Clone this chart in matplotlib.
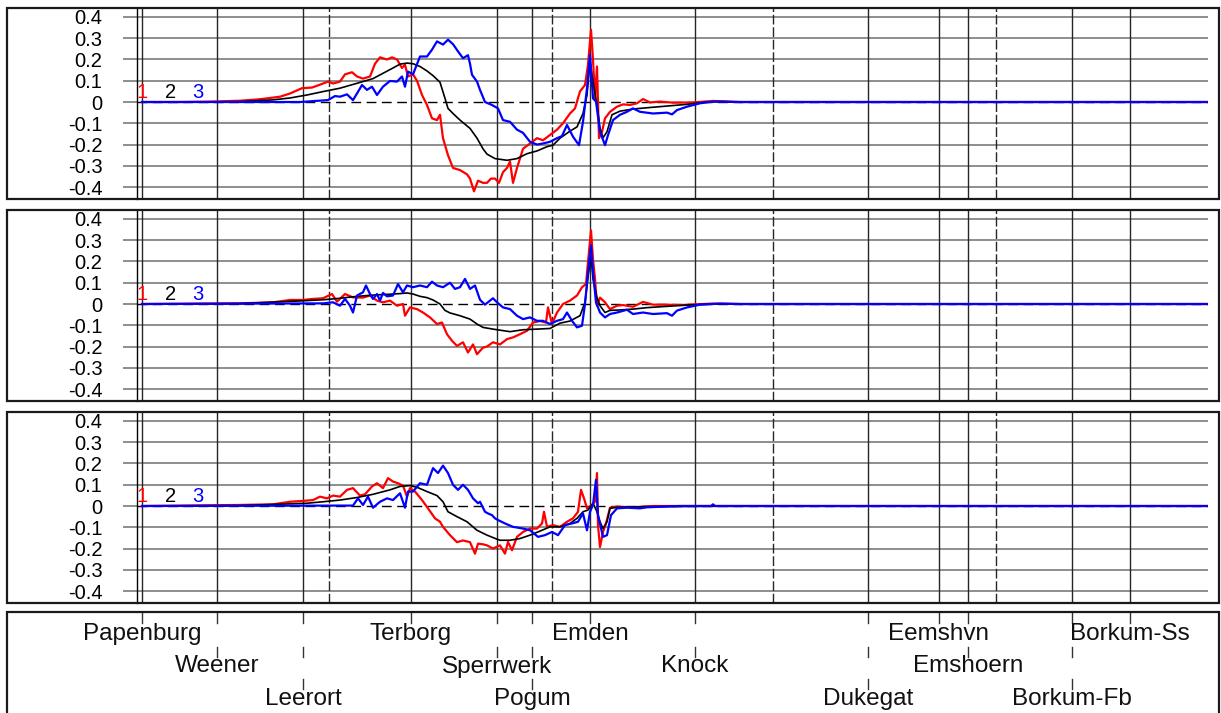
import matplotlib
matplotlib.use("Agg")
import matplotlib.pyplot as plt
from matplotlib.patches import Rectangle

plt.rcParams['font.family'] = ['Liberation Sans', 'DejaVu Sans']

# ---- stations along the estuary (distance in km from Papenburg) ----
stations = ['Papenburg', 'Weener', 'Leerort', 'Terborg', 'Sperrwerk', 'Pogum',
            'Emden', 'Knock', 'Dukegat', 'Eemshvn', 'Emshoern', 'Borkum-Fb', 'Borkum-Ss']
station_km = [0.0, 7.5, 16.1, 26.9, 35.5, 39.0, 44.8, 55.3, 72.6, 79.7, 82.6, 93.0, 98.8]
station_row = [1, 2, 3, 1, 2, 3, 1, 2, 3, 1, 2, 3, 1]
dashed_km = [18.7, 41.0, 63.1, 85.4]

yticks = [0.4, 0.3, 0.2, 0.1, 0.0, -0.1, -0.2, -0.3, -0.4]
ytick_labels = ['0.4', '0.3', '0.2', '0.1', '0', '-0.1', '-0.2', '-0.3', '-0.4']
series_labels = ['1', '2', '3']
series_colors = ['#ff0000', '#000000', '#0000ff']

# ---- panel 1 ----
p1_red_km = [0.0, 3.8, 6.8, 9.8, 11.8, 13.8, 14.8, 16.0, 17.0, 18.0,
             18.6, 19.1, 19.8, 20.3, 21.0, 21.5, 22.1, 22.8, 23.3, 23.8,
             24.5, 25.0, 25.5, 26.0, 26.3, 26.6, 27.1, 27.5, 28.0, 28.5,
             29.0, 29.5, 29.8, 30.1, 30.6, 31.1, 31.8, 32.5, 32.8, 33.2,
             33.6, 34.1, 34.5, 34.9, 35.3, 35.7, 36.1, 36.5, 36.8, 37.1,
             37.5, 38.1, 38.8, 39.5, 40.1, 40.8, 41.5, 42.1, 42.8, 43.3,
             43.8, 44.3, 44.6, 44.9, 45.1, 45.3, 45.5, 45.7, 46.0, 46.3,
             46.8, 47.5, 48.1, 48.8, 49.5, 50.1, 50.8, 51.8, 53.1, 55.1,
             57.1, 59.8, 65.8, 106.6]
p1_red = [0.0, 0.0, 0.002, 0.006, 0.013, 0.025, 0.04, 0.065, 0.068, 0.085,
          0.096, 0.087, 0.096, 0.13, 0.14, 0.12, 0.11, 0.12, 0.18, 0.21,
          0.2, 0.21, 0.2, 0.16, 0.175, 0.12, 0.13, 0.10, 0.033, -0.014,
          -0.077, -0.085, -0.06, -0.17, -0.25, -0.31, -0.32, -0.34, -0.36, -0.42,
          -0.37, -0.38, -0.38, -0.36, -0.36, -0.38, -0.33, -0.31, -0.28, -0.38,
          -0.31, -0.22, -0.195, -0.17, -0.18, -0.155, -0.13, -0.10, -0.054, -0.03,
          0.05, 0.08, 0.175, 0.34, 0.2, 0.017, 0.167, -0.17, -0.14, -0.077,
          -0.046, -0.022, -0.011, -0.014, -0.006, 0.014, -0.002, 0.002, -0.003, -0.002,
          0.005, 0.0, 0.0, 0.0]
p1_black_km = [0.0, 5.8, 9.8, 13.1, 14.8, 16.5, 18.1, 19.8, 21.5, 23.1,
               24.1, 25.1, 25.8, 26.5, 27.1, 27.8, 28.5, 29.1, 29.8, 30.3,
               30.6, 31.1, 31.8, 32.8, 33.5, 34.1, 34.5, 35.3, 36.5, 37.5,
               38.5, 39.5, 40.5, 41.1, 41.8, 42.8, 43.5, 44.1, 44.5, 44.8,
               45.1, 45.5, 45.8, 46.1, 46.5, 47.0, 47.8, 49.1, 50.5, 52.5,
               54.5, 56.5, 57.8, 59.8, 106.6]
p1_black = [0.0, 0.0, 0.002, 0.01, 0.019, 0.033, 0.049, 0.065, 0.088, 0.11,
            0.135, 0.16, 0.178, 0.183, 0.18, 0.167, 0.146, 0.124, 0.093, 0.017,
            -0.03, -0.054, -0.085, -0.124, -0.17, -0.22, -0.245, -0.266, -0.274, -0.266,
            -0.243, -0.23, -0.21, -0.203, -0.17, -0.137, -0.117, -0.054, 0.033, 0.19,
            0.096, -0.014, -0.124, -0.168, -0.14, -0.06, -0.043, -0.033, -0.027, -0.019,
            -0.011, 0.0, 0.002, 0.0, 0.0]
p1_blue_km = [0.0, 15.8, 18.6, 19.3, 19.8, 20.5, 21.1, 21.5, 22.0, 22.5,
              23.0, 23.5, 24.1, 24.8, 25.5, 26.0, 26.3, 26.6, 27.1, 27.8,
              28.5, 29.0, 29.5, 30.1, 30.6, 31.1, 31.6, 32.1, 32.6, 32.8,
              33.0, 33.5, 33.8, 34.3, 35.0, 35.6, 36.1, 36.8, 37.5, 38.1,
              38.8, 39.5, 40.1, 40.8, 41.5, 42.0, 42.5, 43.1, 43.7, 44.1,
              44.5, 44.8, 45.1, 45.4, 45.8, 46.3, 46.6, 47.1, 47.8, 48.5,
              49.1, 49.8, 51.1, 52.5, 53.0, 53.5, 54.5, 55.8, 57.1, 59.8,
              106.6]
p1_blue = [0.0, 0.0, 0.009, 0.028, 0.025, 0.036, 0.009, 0.04, 0.08, 0.057,
           0.072, 0.033, 0.072, 0.099, 0.096, 0.12, 0.072, 0.143, 0.13, 0.214,
           0.214, 0.246, 0.285, 0.27, 0.293, 0.272, 0.238, 0.206, 0.22, 0.18,
           0.128, 0.096, 0.057, 0.0, -0.014, -0.03, -0.085, -0.093, -0.13, -0.145,
           -0.187, -0.2, -0.195, -0.187, -0.17, -0.16, -0.108, -0.163, -0.203, -0.093,
           0.065, 0.222, 0.017, 0.002, -0.14, -0.203, -0.156, -0.085, -0.06, -0.046,
           -0.03, -0.046, -0.054, -0.05, -0.058, -0.038, -0.022, -0.006, 0.002, 0.0,
           0.0]

# ---- panel 2 ----
p2_red_km = [0.0, 9.8, 13.1, 14.8, 16.1, 17.1, 18.1, 19.0, 19.5, 20.3,
             21.1, 22.1, 22.8, 23.5, 24.1, 24.8, 25.5, 26.1, 26.3, 26.8,
             27.5, 28.1, 28.8, 29.5, 30.0, 30.5, 31.0, 31.5, 32.1, 32.6,
             33.1, 33.5, 34.1, 34.5, 35.1, 35.8, 36.5, 37.1, 37.8, 38.5,
             39.1, 39.8, 40.4, 40.6, 41.0, 41.5, 42.1, 42.8, 43.5, 44.0,
             44.4, 44.6, 44.9, 45.1, 45.3, 45.5, 45.8, 46.3, 46.8, 47.5,
             48.1, 49.1, 50.1, 51.1, 52.5, 53.8, 55.1, 57.1, 59.8, 106.6]
p2_red = [0.0, 0.003, 0.008, 0.019, 0.019, 0.024, 0.027, 0.047, 0.011, 0.047,
          0.031, 0.03, 0.04, 0.016, 0.008, 0.016, -0.008, 0.0, -0.055, -0.016,
          -0.024, -0.04, -0.063, -0.094, -0.087, -0.142, -0.173, -0.197, -0.18, -0.228,
          -0.19, -0.236, -0.205, -0.2, -0.18, -0.19, -0.165, -0.157, -0.142, -0.126,
          -0.087, -0.08, -0.087, -0.016, -0.094, -0.04, 0.0, 0.016, 0.04, 0.079,
          0.094, 0.197, 0.346, 0.21, 0.118, -0.008, 0.03, 0.008, -0.024, -0.008,
          -0.005, -0.013, 0.01, -0.003, -0.003, -0.005, -0.002, 0.002, 0.0, 0.0]
p2_black_km = [0.0, 9.8, 16.5, 18.1, 19.8, 21.5, 23.1, 24.8, 25.8, 26.5,
               27.1, 27.8, 28.5, 29.1, 29.8, 30.3, 30.8, 31.8, 32.8, 33.5,
               34.1, 35.1, 36.8, 38.1, 39.5, 40.8, 41.8, 42.8, 43.8, 44.3,
               44.6, 44.9, 45.1, 45.5, 45.8, 46.3, 46.8, 47.8, 49.1, 50.5,
               52.5, 54.5, 57.1, 106.6]
p2_black = [0.0, 0.002, 0.016, 0.02, 0.027, 0.036, 0.042, 0.046, 0.049, 0.052,
            0.047, 0.036, 0.03, 0.019, 0.0, -0.03, -0.042, -0.055, -0.071, -0.094,
            -0.11, -0.118, -0.13, -0.121, -0.118, -0.115, -0.09, -0.08, -0.055, 0.008,
            0.126, 0.228, 0.118, 0.03, -0.008, -0.04, -0.03, -0.028, -0.024, -0.017,
            -0.011, -0.005, 0.0, 0.0]
p2_blue_km = [0.0, 18.1, 19.1, 19.8, 20.3, 20.8, 21.1, 21.5, 22.1, 22.4,
              22.8, 23.1, 23.5, 23.8, 24.1, 24.5, 25.1, 25.6, 26.1, 26.5,
              27.1, 27.8, 28.5, 29.0, 29.5, 30.1, 30.8, 31.3, 31.8, 32.3,
              32.8, 33.3, 33.8, 34.3, 34.8, 35.1, 35.5, 36.1, 36.8, 37.5,
              38.1, 38.8, 39.5, 40.1, 40.8, 41.5, 42.1, 42.5, 43.0, 43.5,
              44.0, 44.3, 44.6, 44.9, 45.1, 45.4, 45.8, 46.3, 46.8, 47.5,
              48.5, 49.1, 50.1, 51.1, 52.5, 53.0, 53.5, 54.5, 55.8, 57.8,
              59.8, 106.6]
p2_blue = [0.0, 0.003, 0.008, -0.008, 0.024, -0.008, -0.04, 0.04, 0.055, 0.087,
           0.047, 0.024, 0.047, 0.016, 0.052, 0.036, 0.04, 0.094, 0.055, 0.087,
           0.079, 0.087, 0.079, 0.105, 0.087, 0.079, 0.1, 0.071, 0.079, 0.118,
           0.071, 0.087, 0.02, -0.003, 0.016, 0.027, 0.008, -0.016, -0.024, -0.055,
           -0.071, -0.063, -0.079, -0.079, -0.094, -0.079, -0.071, -0.04, -0.079, -0.11,
           -0.102, 0.0, 0.15, 0.276, 0.15, 0.008, -0.04, -0.063, -0.047, -0.04,
           -0.027, -0.047, -0.04, -0.047, -0.043, -0.055, -0.031, -0.016, -0.003, 0.002,
           0.0, 0.0]

# ---- panel 3 ----
p3_red_km = [0.0, 9.8, 13.1, 14.8, 16.1, 17.1, 17.8, 18.5, 19.1, 19.8,
             20.5, 21.1, 21.8, 22.3, 23.0, 23.5, 24.1, 24.6, 25.1, 25.6,
             26.1, 26.5, 26.8, 27.3, 28.0, 28.6, 29.3, 29.8, 30.1, 30.8,
             31.5, 32.1, 32.8, 33.3, 33.6, 34.1, 34.5, 35.1, 35.8, 36.3,
             36.6, 37.0, 37.5, 38.1, 38.8, 39.5, 40.0, 40.2, 40.5, 41.1,
             41.8, 42.5, 43.1, 43.6, 43.9, 44.2, 44.5, 45.0, 45.3, 45.5,
             45.6, 45.8, 46.1, 46.4, 46.8, 47.5, 49.1, 51.1, 53.8, 106.6]
p3_red = [0.0, 0.005, 0.008, 0.02, 0.024, 0.028, 0.044, 0.036, 0.049, 0.044,
          0.076, 0.084, 0.049, 0.055, 0.092, 0.107, 0.084, 0.131, 0.115, 0.107,
          0.096, 0.044, 0.084, 0.068, 0.028, -0.011, -0.058, -0.074, -0.098, -0.137,
          -0.17, -0.162, -0.17, -0.224, -0.177, -0.18, -0.185, -0.2, -0.185, -0.224,
          -0.169, -0.208, -0.145, -0.122, -0.106, -0.106, -0.082, -0.027, -0.098, -0.09,
          -0.098, -0.074, -0.058, -0.027, 0.076, 0.036, -0.011, 0.005, 0.02, 0.155,
          -0.09, -0.193, -0.122, -0.082, -0.008, -0.003, -0.006, 0.0, 0.0, 0.0]
p3_black_km = [0.0, 9.8, 16.5, 18.1, 19.8, 21.5, 23.1, 24.8, 25.8, 26.8,
               27.5, 28.5, 29.5, 30.1, 30.6, 31.5, 32.5, 33.5, 34.5, 35.5,
               35.8, 36.8, 37.8, 38.8, 39.8, 40.8, 41.8, 42.8, 43.5, 44.1,
               44.6, 45.1, 45.5, 45.8, 46.1, 46.5, 46.8, 47.5, 50.5, 59.8,
               106.6]
p3_black = [0.0, 0.002, 0.013, 0.02, 0.028, 0.04, 0.055, 0.076, 0.092, 0.096,
            0.088, 0.068, 0.049, 0.02, -0.027, -0.05, -0.074, -0.114, -0.137, -0.156,
            -0.161, -0.161, -0.153, -0.137, -0.118, -0.098, -0.098, -0.082, -0.058, -0.027,
            -0.019, 0.013, -0.027, -0.074, -0.106, -0.074, -0.011, -0.006, -0.003, 0.0,
            0.0]
p3_blue_km = [0.0, 19.8, 21.1, 21.6, 22.1, 22.6, 23.1, 23.8, 24.5, 25.1,
              25.8, 26.3, 26.6, 27.1, 27.8, 28.5, 29.1, 29.6, 30.1, 30.6,
              31.1, 31.6, 32.1, 32.6, 33.1, 33.6, 33.8, 34.3, 34.6, 35.0,
              35.3, 35.6, 36.3, 37.1, 38.1, 38.8, 39.6, 40.3, 41.0, 41.6,
              42.3, 43.0, 43.6, 44.1, 44.5, 44.8, 45.1, 45.4, 45.6, 46.1,
              46.5, 46.9, 47.5, 48.5, 49.8, 50.5, 53.8, 56.9, 57.1, 57.3,
              106.6]
p3_blue = [0.0, 0.002, 0.002, 0.036, 0.005, 0.044, -0.008, 0.02, 0.036, 0.028,
           0.06, -0.008, 0.068, 0.068, 0.107, 0.1, 0.178, 0.155, 0.19, 0.155,
           0.1, 0.076, 0.1, 0.076, 0.036, 0.013, 0.02, -0.027, -0.035, -0.043,
           -0.058, -0.066, -0.082, -0.098, -0.106, -0.114, -0.145, -0.137, -0.122, -0.137,
           -0.09, -0.082, -0.074, -0.035, -0.114, -0.027, 0.005, 0.123, -0.043, -0.145,
           -0.137, -0.043, -0.011, -0.008, -0.011, -0.006, 0.0, 0.0, 0.008, 0.0,
           0.0]

panels = [
    [(p1_red_km, p1_red), (p1_black_km, p1_black), (p1_blue_km, p1_blue)],
    [(p2_red_km, p2_red), (p2_black_km, p2_black), (p2_blue_km, p2_blue)],
    [(p3_red_km, p3_red), (p3_black_km, p3_black), (p3_blue_km, p3_blue)],
]

# ---- layout (figure pixels) ----
W, H = 1221, 713
fig = plt.figure(figsize=(W / 100, H / 100), dpi=100)

x_left, x_right = 137, 1208
panel_tops = [8, 210, 412]
panel_h = 191
xlim = (-0.5, 106.6)
ylim = (-0.456, 0.442)
grid_gray = '#7a7a7a'
vline_col = '#262626'


def fig_rect(x0, y0, x1, y1):
    return [x0 / W, 1 - y1 / H, (x1 - x0) / W, (y1 - y0) / H]


def frame(x0, y0, x1, y1):
    fig.add_artist(Rectangle((x0 / W, 1 - y1 / H), (x1 - x0) / W, (y1 - y0) / H,
                             transform=fig.transFigure, fill=False,
                             edgecolor='#1a1a1a', linewidth=1.6, clip_on=False))


for top, curves in zip(panel_tops, panels):
    frame(7, top, 1219, top + panel_h)
    ax = fig.add_axes(fig_rect(x_left, top, x_right, top + panel_h))
    ax.set_xlim(*xlim)
    ax.set_ylim(*ylim)
    for side in ['top', 'right', 'bottom']:
        ax.spines[side].set_visible(False)
    ax.spines['left'].set_color('black')
    ax.spines['left'].set_linewidth(1.0)
    ax.set_xticks([])
    ax.set_yticks(yticks)
    ax.set_yticklabels(ytick_labels)
    ax.tick_params(axis='y', direction='out', length=10, width=1.2,
                   color=grid_gray, pad=15, labelsize=14.5)

    for v in yticks:
        if v != 0:
            ax.axhline(v, color=grid_gray, lw=1.2, zorder=1)
    ax.axhline(0, color='black', lw=1.0, dashes=(7, 4), zorder=1)
    for k in station_km:
        ax.axvline(k, color=vline_col, lw=1.0, zorder=1)
    for k in dashed_km:
        ax.axvline(k, color=vline_col, lw=1.0, dashes=(7, 2), zorder=1)

    widths = [1.6, 1.2, 1.6]
    for (xs, ys), c, lw in zip(curves, series_colors, widths):
        ax.plot(xs, ys, color=c, lw=lw, zorder=3, solid_joinstyle='round')

    for lbl, c, k in zip(series_labels, series_colors, [0.05, 2.85, 5.55]):
        ax.text(k, 0.018, lbl, color=c, fontsize=14.5, ha='center', va='baseline', zorder=4)

# ---- station label strip ----
frame(7, 612, 1219, 760)
axl = fig.add_axes(fig_rect(x_left, 612, x_right, 713))
axl.set_xlim(*xlim)
axl.set_ylim(713, 612)
axl.axis('off')
row_baseline = {1: 640, 2: 672.5, 3: 705}
row_tick = {1: (613, 623), 2: (647, 657), 3: (679, 689)}
for name, k, r in zip(stations, station_km, station_row):
    for rr in range(1, r + 1):
        y0, y1 = row_tick[rr]
        axl.plot([k, k], [y0, y1], color='#333333', lw=1.0, clip_on=False)
    axl.text(k, row_baseline[r], name, fontsize=17.5, ha='center', va='baseline',
             color='#111111', clip_on=False)

fig.savefig('out.png', dpi=100)
